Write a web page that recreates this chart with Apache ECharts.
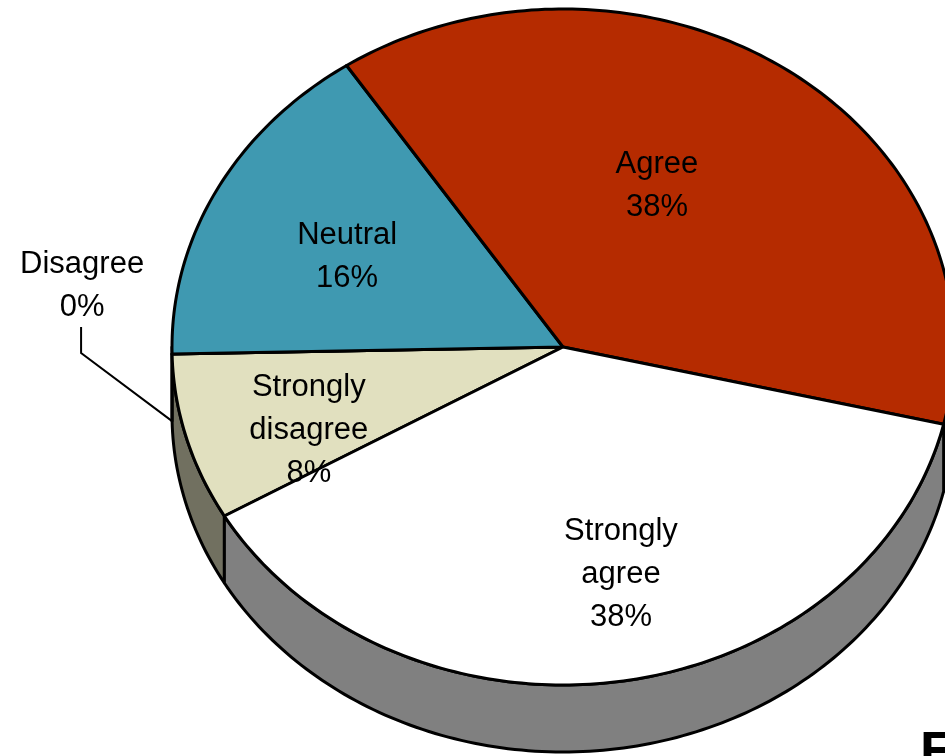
<!DOCTYPE html>
<html>
<head>
<meta charset="utf-8">
<script src="https://cdn.jsdelivr.net/npm/echarts@6/dist/echarts.min.js"></script>
<style>
  html, body { margin: 0; padding: 0; background: #ffffff; }
  #chart { width: 945px; height: 756px; }
</style>
</head>
<body>
<div id="chart"></div>
<script>
// Survey responses, in drawing order (clockwise from the lower-left edge)
const categories = ['Strongly\ndisagree', 'Disagree', 'Neutral', 'Agree', 'Strongly\nagree'];
const values = [8, 0, 16, 38, 38];
const sliceColors = ['#E1E0BF', '#A9A98C', '#3F99B1', '#B52B00', '#FFFFFF'];

// Label anchor along each slice's mid angle, as fractions of the two ellipse radii
const labelFractions = [[0.675, 0.913], null, [0.623, 0.575], [0.421, 0.58], [1.015, 0.679]];

// Tilted pie geometry
const PIE = { cx: 563, cy: 347, rx: 391, ry: 338, depth: 67, startAngle: 210 };
const FONT = '31px "Liberation Sans", Arial, sans-serif';
const LINE_H = 43;

const total = values.reduce((s, v) => s + v, 0);
const slices = [];
(function () {
  let a = PIE.startAngle;
  values.forEach(v => {
    const sweep = v / total * 360;
    slices.push({ start: a, end: a - sweep });
    a -= sweep;
  });
})();

function pt(deg, dy) {
  const r = deg * Math.PI / 180;
  return [PIE.cx + PIE.rx * Math.cos(r), PIE.cy - PIE.ry * Math.sin(r) + (dy || 0)];
}
function arc(from, to, dy) {
  const n = Math.max(2, Math.ceil(Math.abs(from - to)));
  const out = [];
  for (let k = 0; k <= n; k++) out.push(pt(from + (to - from) * k / n, dy));
  return out;
}
function shade(hex, f) {
  const n = parseInt(hex.slice(1), 16);
  const r = Math.round(((n >> 16) & 255) * f);
  const g = Math.round(((n >> 8) & 255) * f);
  const b = Math.round((n & 255) * f);
  return 'rgb(' + r + ',' + g + ',' + b + ')';
}
// Parts of a slice's rim that face the viewer (lower half of the ellipse)
function frontParts(s, e) {
  const parts = [];
  for (let k = -2; k <= 2; k++) {
    const lo = 180 + 360 * k, hi = 360 + 360 * k;
    const a1 = Math.min(s, hi), a2 = Math.max(e, lo);
    if (a1 > a2) parts.push([a1, a2]);
  }
  return parts;
}

const edge = { stroke: '#000000', lineWidth: 3, lineJoin: 'round' };

function renderItem(params, api) {
  const i = params.dataIndex;
  const v = api.value(0);
  const sl = slices[i];
  const color = sliceColors[i];
  const children = [];

  // rim wall
  frontParts(sl.start, sl.end).forEach(p => {
    const pts = arc(p[0], p[1], 0).concat(arc(p[1], p[0], PIE.depth));
    children.push({
      type: 'polygon', z2: 1,
      shape: { points: pts },
      style: Object.assign({ fill: shade(color, 0.5) }, edge)
    });
  });

  // top face
  children.push({
    type: 'polygon', z2: 5,
    shape: { points: [[PIE.cx, PIE.cy]].concat(arc(sl.start, sl.end, 0)) },
    style: Object.assign({ fill: color }, edge)
  });

  const pct = Math.round(v / total * 100) + '%';
  const text = categories[i] + '\n' + pct;
  const mid = (sl.start + sl.end) / 2;
  const rad = mid * Math.PI / 180;

  if (labelFractions[i]) {
    const f = labelFractions[i];
    children.push({
      type: 'text', z2: 10,
      style: {
        text: text,
        x: PIE.cx + f[0] * PIE.rx * Math.cos(rad),
        y: PIE.cy - f[1] * PIE.ry * Math.sin(rad),
        align: 'center', verticalAlign: 'middle',
        font: FONT, lineHeight: LINE_H, fill: '#000000'
      }
    });
  } else {
    // outside label with a leader line to the rim
    const anchor = pt(mid, PIE.depth);
    const lx = anchor[0] - 91;
    children.push({
      type: 'polyline', z2: 10,
      shape: { points: [[lx, anchor[1] - 94], [lx, anchor[1] - 68], anchor] },
      style: { stroke: '#000000', lineWidth: 2, fill: null }
    });
    children.push({
      type: 'text', z2: 10,
      style: {
        text: text,
        x: lx + 1, y: anchor[1] - 135,
        align: 'center', verticalAlign: 'middle',
        font: FONT, lineHeight: LINE_H, fill: '#000000'
      }
    });
  }
  return { type: 'group', children: children };
}

const chart = echarts.init(document.getElementById('chart'), null, { renderer: 'canvas' });
chart.setOption({
  backgroundColor: '#ffffff',
  animation: false,
  graphic: [{
    type: 'text', left: 920, top: 727,
    style: { text: 'E', font: 'bold 54px "Liberation Sans", Arial, sans-serif', fill: '#000000' }
  }],
  series: [{
    type: 'custom',
    coordinateSystem: 'none',
    renderItem: renderItem,
    data: values.map((v, i) => ({ name: categories[i], value: v }))
  }]
});
</script>
</body>
</html>
